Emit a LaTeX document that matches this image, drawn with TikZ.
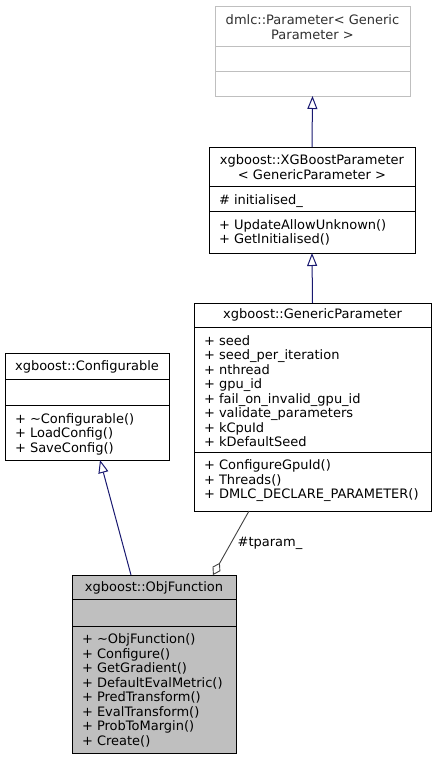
\documentclass[tikz,border=0pt]{standalone}
\usepackage{fontspec}
\setmainfont{DejaVu Sans}
\usetikzlibrary{arrows.meta}
\definecolor{inhblue}{RGB}{25,25,112}
\definecolor{usegray}{RGB}{64,64,64}
\definecolor{undocline}{RGB}{191,191,191}
\definecolor{undoctext}{RGB}{48,48,48}
\definecolor{curfill}{RGB}{191,191,191}

\begin{document}
\begin{tikzpicture}[x=1pt,y=-1pt,every node/.style={font=\fontsize{13}{14.5}\selectfont,inner sep=0pt,outer sep=0pt},
  clsbox/.style={draw=black,line width=.9pt,anchor=north west,fill=white},
  undoc/.style={draw=undocline,line width=.9pt,anchor=north west,fill=white},
  member/.style={anchor=north west,align=left},
  title/.style={align=center},
  inherit/.style={draw=inhblue,line width=1pt,-{Triangle[open,length=13pt,width=10pt,fill=white]}},
  usage/.style={draw=usegray,line width=.9pt,-{Diamond[open,length=14pt,width=9pt,fill=white]}}]
\useasboundingbox (0,0) rectangle (437,760);
\node[undoc,minimum width=195pt,minimum height=90pt] (dmlc) at (215,6) {};
\draw[undocline,line width=.9pt] (215,46) -- (410,46);
\draw[undocline,line width=.9pt] (215,71) -- (410,71);
\node[title,text=undoctext] (dmlct) at (312.5,27) {dmlc::Parameter< Generic\\Parameter >};
\node[clsbox,minimum width=206pt,minimum height=106pt] (xgb) at (209,147) {};
\draw[line width=.9pt] (209,186) -- (415,186);
\draw[line width=.9pt] (209,211) -- (415,211);
\node[title] (xgbt) at (312,167) {xgboost::XGBoostParameter\\< GenericParameter >};
\node[member] (xgba) at (219,194.5) {\# initialised\_};
\node[member] (xgbm) at (219,219.5) {+ UpdateAllowUnknown()\\+ GetInitialised()};
\node[clsbox,minimum width=237pt,minimum height=208pt] (gen) at (194,303) {};
\draw[line width=.9pt] (194,327) -- (431,327);
\draw[line width=.9pt] (194,452) -- (431,452);
\node (gent) at (312.5,315) {xgboost::GenericParameter};
\node[member] (gena) at (204,335.5) {+ seed\\+ seed\_per\_iteration\\+ nthread\\+ gpu\_id\\+ fail\_on\_invalid\_gpu\_id\\+ validate\_parameters\\+ kCpuId\\+ kDefaultSeed};
\node[member] (genm) at (204,460) {+ ConfigureGpuId()\\+ Threads()\\+ DMLC\_DECLARE\_PARAMETER()};
\node[clsbox,minimum width=164pt,minimum height=107pt] (cfg) at (5,353) {};
\draw[line width=.9pt] (5,379) -- (169,379);
\draw[line width=.9pt] (5,405) -- (169,405);
\node (cfgt) at (87,367) {xgboost::Configurable};
\node[member] (cfgm) at (15,413.5) {+ \textasciitilde Configurable()\\+ LoadConfig()\\+ SaveConfig()};
\node[clsbox,fill=curfill,minimum width=164pt,minimum height=178pt] (obj) at (72,575) {};
\draw[line width=.9pt] (72,599) -- (236,599);
\draw[line width=.9pt] (72,626) -- (236,626);
\node (objt) at (154,587.5) {xgboost::ObjFunction};
\node[member] (objm) at (82,634) {+ \textasciitilde ObjFunction()\\+ Configure()\\+ GetGradient()\\+ DefaultEvalMetric()\\+ PredTransform()\\+ EvalTransform()\\+ ProbToMargin()\\+ Create()};
\draw[inherit] (xgb.north) -- (dmlc.south);
\draw[inherit] (gen.north) -- (xgb.south);
\draw[inherit] ([xshift=59pt]obj.north west) -- ([xshift=95pt]cfg.south west);
\draw[usage] ([xshift=55pt]gen.south west) -- ([xshift=141pt]obj.north west);
\node (tlbl) at (270,543) {\#tparam\_};
\end{tikzpicture}
\end{document}
